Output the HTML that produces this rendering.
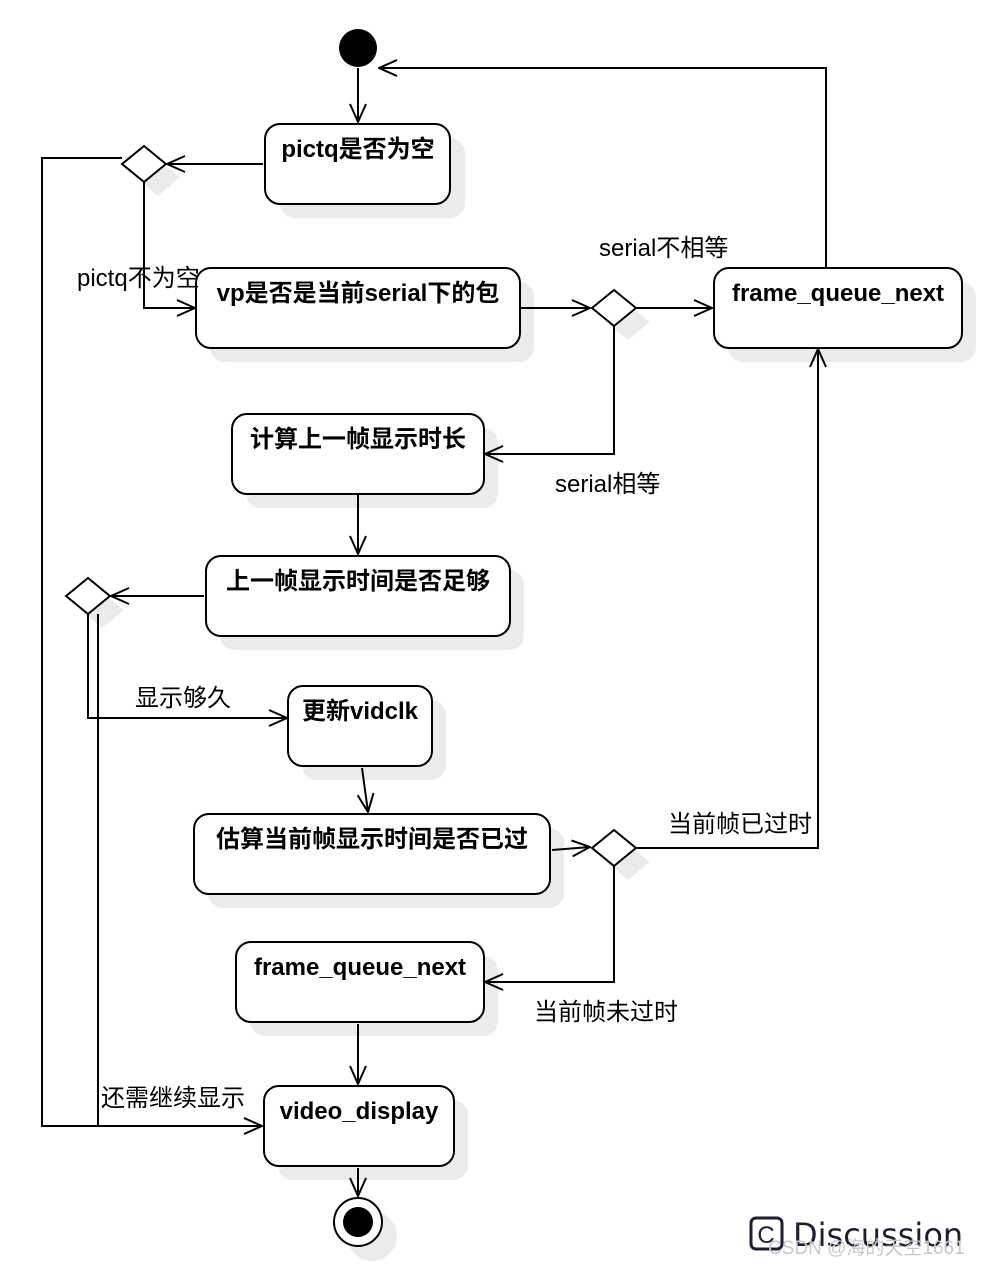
<!DOCTYPE html>
<html><head><meta charset="utf-8"><style>
html,body{margin:0;padding:0;background:#fff;}
svg{display:block;}
.t{font-family:"Liberation Sans","Noto Sans CJK SC",sans-serif;font-size:24px;fill:#000;}
.b{font-weight:bold;}
</style></head><body>
<svg width="982" height="1266" viewBox="0 0 982 1266" xmlns="http://www.w3.org/2000/svg">
<defs>
<marker id="a" viewBox="0 0 20 20" refX="19" refY="10" markerWidth="20" markerHeight="20" markerUnits="userSpaceOnUse" orient="auto">
<path d="M1,2 L19,10 L1,18" fill="none" stroke="#000" stroke-width="2"/>
</marker>
</defs>
<g fill="#ebebeb">
<rect x="280" y="138" width="185" height="80" rx="15"/>
<rect x="210" y="282" width="324" height="80" rx="15"/>
<rect x="728" y="282" width="248" height="80" rx="15"/>
<rect x="246" y="428" width="252" height="80" rx="15"/>
<rect x="220" y="570" width="304" height="80" rx="15"/>
<rect x="302" y="700" width="144" height="80" rx="15"/>
<rect x="208" y="828" width="356" height="80" rx="15"/>
<rect x="250" y="956" width="248" height="80" rx="15"/>
<rect x="278" y="1100" width="190" height="80" rx="15"/>
<circle cx="372" cy="1236" r="25"/>
<path d="M158,160 L180,177 L158,196 L136,177Z"/>
<path d="M628,304 L650,322 L628,340 L606,322Z"/>
<path d="M102,592 L124,610 L102,628 L80,610Z"/>
<path d="M628,844 L650,862 L628,880 L606,862Z"/>
</g>
<g fill="#fff" stroke="#000" stroke-width="2">
<rect x="265" y="124" width="185" height="80" rx="15"/>
<rect x="196" y="268" width="324" height="80" rx="15"/>
<rect x="714" y="268" width="248" height="80" rx="15"/>
<rect x="232" y="414" width="252" height="80" rx="15"/>
<rect x="206" y="556" width="304" height="80" rx="15"/>
<rect x="288" y="686" width="144" height="80" rx="15"/>
<rect x="194" y="814" width="356" height="80" rx="15"/>
<rect x="236" y="942" width="248" height="80" rx="15"/>
<rect x="264" y="1086" width="190" height="80" rx="15"/>
<path d="M144,146 L166,164 L144,182 L122,164Z"/>
<path d="M614,290 L636,308 L614,326 L592,308Z"/>
<path d="M88,578 L110,596 L88,614 L66,596Z"/>
<path d="M614,830 L636,848 L614,866 L592,848Z"/>
<circle cx="358" cy="1222" r="24"/>
</g>
<circle cx="358" cy="48" r="19" fill="#000"/>
<circle cx="358" cy="1222" r="15" fill="#000"/>
<g fill="none" stroke="#000" stroke-width="2">
<path d="M358,68 L358,122" marker-end="url(#a)"/>
<path d="M263,164 L167,164" marker-end="url(#a)"/>
<path d="M122,158 L42,158 L42,1126 L262,1126" marker-end="url(#a)"/>
<path d="M144,182 L144,308 L195,308" marker-end="url(#a)"/>
<path d="M521,308 L590,308" marker-end="url(#a)"/>
<path d="M637,308 L712,308" marker-end="url(#a)"/>
<path d="M826,267 L826,68 L379,68" marker-end="url(#a)"/>
<path d="M614,326 L614,454 L485,454" marker-end="url(#a)"/>
<path d="M358,495 L358,554" marker-end="url(#a)"/>
<path d="M204,596 L111,596" marker-end="url(#a)"/>
<path d="M88,614 L88,718 L287,718" marker-end="url(#a)"/>
<path d="M98,614 L98,1126"/>
<path d="M362,768 L368,812" marker-end="url(#a)"/>
<path d="M552,850 L590,847" marker-end="url(#a)"/>
<path d="M637,848 L818,848 L818,349" marker-end="url(#a)"/>
<path d="M614,866 L614,982 L485,982" marker-end="url(#a)"/>
<path d="M358,1024 L358,1084" marker-end="url(#a)"/>
<path d="M358,1168 L358,1196" marker-end="url(#a)"/>
</g>
<g class="t b" text-anchor="middle">
<text x="358" y="157">pictq是否为空</text>
<text x="358" y="301">vp是否是当前serial下的包</text>
<text x="838" y="301">frame_queue_next</text>
<text x="358" y="447">计算上一帧显示时长</text>
<text x="358" y="589">上一帧显示时间是否足够</text>
<text x="360" y="719">更新vidclk</text>
<text x="372" y="847">估算当前帧显示时间是否已过</text>
<text x="360" y="975">frame_queue_next</text>
<text x="359" y="1119">video_display</text>
</g>
<g class="t">
<text x="77" y="286">pictq不为空</text>
<text x="599" y="256">serial不相等</text>
<text x="555" y="492">serial相等</text>
<text x="135" y="706">显示够久</text>
<text x="668" y="832">当前帧已过时</text>
<text x="534" y="1020">当前帧未过时</text>
<text x="101" y="1106">还需继续显示</text>
</g>
<rect x="751" y="1218" width="31" height="31" rx="5" fill="none" stroke="#1e1e2e" stroke-width="3"/>
<text x="766" y="1243" text-anchor="middle" style="font-family:'Liberation Sans',sans-serif;font-size:24px;fill:#1e1e2e;">C</text>
<text x="793" y="1246" style="font-family:'DejaVu Sans',sans-serif;font-size:32px;fill:#1e1e2e;">Discussion</text>
<text x="768" y="1254" style="font-family:'Liberation Sans','Noto Sans CJK SC',sans-serif;font-size:19px;fill:#c8c8c8;">CSDN @海的天空1661</text>
</svg>
</body></html>
